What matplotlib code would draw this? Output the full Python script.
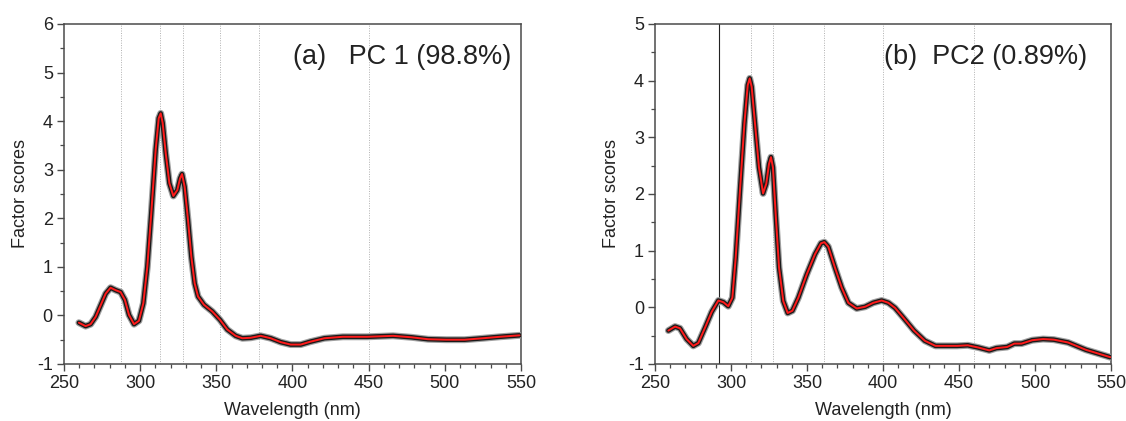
import matplotlib
matplotlib.use("Agg")
import matplotlib.pyplot as plt
from matplotlib.ticker import MultipleLocator

plt.rcParams['font.family'] = ['Liberation Sans', 'DejaVu Sans']
plt.rcParams['axes.unicode_minus'] = False

# PC1 factor scores
pc1_wl = [259.8, 264.2, 267.5, 270.8, 274.1, 277.4, 280.6, 283.9, 287.2, 290.0,
          292.7, 296.0, 299.2, 302.1, 304.7, 307.3, 310.2, 312.2, 313.5, 314.8,
          316.8, 319.2, 321.8, 324.4, 326.2, 327.5, 329.2, 331.4, 333.6, 335.8,
          338.0, 341.9, 347.4, 352.4, 357.2, 362.7, 367.1, 372.6, 379.1, 385.7,
          392.3, 398.8, 405.4, 411.8, 421.0, 433.0, 449.0, 466.0, 478.0, 489.0,
          501.0, 513.0, 525.0, 536.0, 549.0]
pc1_val = [-0.15, -0.22, -0.18, -0.03, 0.21, 0.45, 0.57, 0.52, 0.48, 0.32,
           0.01, -0.18, -0.11, 0.25, 1.00, 2.10, 3.41, 4.06, 4.16, 3.96,
           3.34, 2.72, 2.46, 2.58, 2.82, 2.91, 2.65, 1.97, 1.21, 0.66,
           0.39, 0.22, 0.08, -0.09, -0.29, -0.42, -0.47, -0.46, -0.42, -0.47,
           -0.55, -0.60, -0.60, -0.54, -0.47, -0.44, -0.44, -0.42, -0.45, -0.49,
           -0.50, -0.50, -0.47, -0.44, -0.41]

# PC2 factor scores
pc2_wl = [258.8, 263.2, 266.4, 270.8, 275.2, 278.5, 282.9, 287.3, 291.7, 295.0,
          298.2, 300.9, 303.1, 305.9, 308.8, 311.0, 312.3, 313.6, 315.8, 318.4,
          321.1, 323.2, 325.0, 326.3, 327.6, 329.4, 331.6, 334.4, 337.3, 340.4,
          344.3, 349.8, 355.3, 359.2, 361.4, 364.0, 368.4, 372.8, 377.2, 382.7,
          388.2, 393.6, 399.1, 403.5, 407.9, 413.3, 420.4, 427.5, 434.5, 441.6,
          448.7, 455.8, 462.8, 469.9, 474.6, 481.7, 486.4, 491.1, 498.2, 505.3,
          512.3, 521.7, 533.5, 549.5]
pc2_val = [-0.41, -0.34, -0.37, -0.56, -0.68, -0.63, -0.36, -0.08, 0.12, 0.09,
           0.02, 0.17, 0.88, 2.06, 3.24, 3.92, 4.04, 3.89, 3.24, 2.47,
           2.01, 2.18, 2.53, 2.65, 2.47, 1.64, 0.70, 0.11, -0.10, -0.06,
           0.17, 0.58, 0.94, 1.13, 1.15, 1.07, 0.70, 0.35, 0.08, -0.02,
           0.01, 0.08, 0.12, 0.08, -0.01, -0.18, -0.41, -0.59, -0.68, -0.68,
           -0.68, -0.67, -0.71, -0.76, -0.72, -0.70, -0.64, -0.64, -0.58, -0.56,
           -0.57, -0.62, -0.75, -0.88]

# reference wavelengths marked in each panel
pc1_marks = [287.5, 313, 328, 352.5, 378, 450]
pc2_solid_mark = 292
pc2_marks = [313, 327.5, 361.5, 400, 460]

panel_titles = ["(a)   PC 1 (98.8%)", "(b)  PC2 (0.89%)"]

fig = plt.figure(figsize=(11.26, 4.21), dpi=100)
ax1 = fig.add_axes([0.0568, 0.1354, 0.4059, 0.8076])
ax2 = fig.add_axes([0.5817, 0.1354, 0.4050, 0.8076])

spine_col = '#4a4a4a'
text_col = '#222222'


def style_axes(ax, ymin, ymax):
    ax.set_xlim(250, 550)
    ax.set_ylim(ymin, ymax)
    ax.xaxis.set_major_locator(MultipleLocator(50))
    ax.xaxis.set_minor_locator(MultipleLocator(10))
    ax.yaxis.set_major_locator(MultipleLocator(1))
    ax.yaxis.set_minor_locator(MultipleLocator(0.5))
    for s in ax.spines.values():
        s.set_color(spine_col)
        s.set_linewidth(1.1)
    ax.tick_params(which='both', direction='out', colors=spine_col,
                   labelcolor=text_col, top=False, right=False)
    ax.tick_params(which='major', length=5, width=1.0, labelsize=13, pad=3)
    ax.tick_params(which='minor', length=3, width=0.9)
    ax.set_xlabel("Wavelength (nm)", fontsize=13, color=text_col, labelpad=7)
    ax.set_ylabel("Factor scores", fontsize=13, color=text_col, labelpad=6)


def draw_curve(ax, x, y):
    kw = dict(solid_capstyle='round', solid_joinstyle='round')
    ax.plot(x, y, color='#a0a0a0', lw=5.0, zorder=3, **kw)
    ax.plot(x, y, color='#1a1a1a', lw=3.3, zorder=4, **kw)
    ax.plot(x, y, color='#ff1a1a', lw=1.4, zorder=5, **kw)


style_axes(ax1, -1, 6)
for m in pc1_marks:
    ax1.axvline(m, color='#b0b0b0', lw=0.7, ls=(0, (1, 1.5)), zorder=1)
draw_curve(ax1, pc1_wl, pc1_val)
ax1.text(0.978, 0.903, panel_titles[0], transform=ax1.transAxes,
         ha='right', va='center', fontsize=19.5, color=text_col)

style_axes(ax2, -1, 5)
ax2.axvline(pc2_solid_mark, color='#222222', lw=0.8, zorder=1)
for m in pc2_marks:
    ax2.axvline(m, color='#b0b0b0', lw=0.7, ls=(0, (1, 1.5)), zorder=1)
draw_curve(ax2, pc2_wl, pc2_val)
ax2.text(0.947, 0.903, panel_titles[1], transform=ax2.transAxes,
         ha='right', va='center', fontsize=19.5, color=text_col)

fig.savefig("out.png", dpi=100)
